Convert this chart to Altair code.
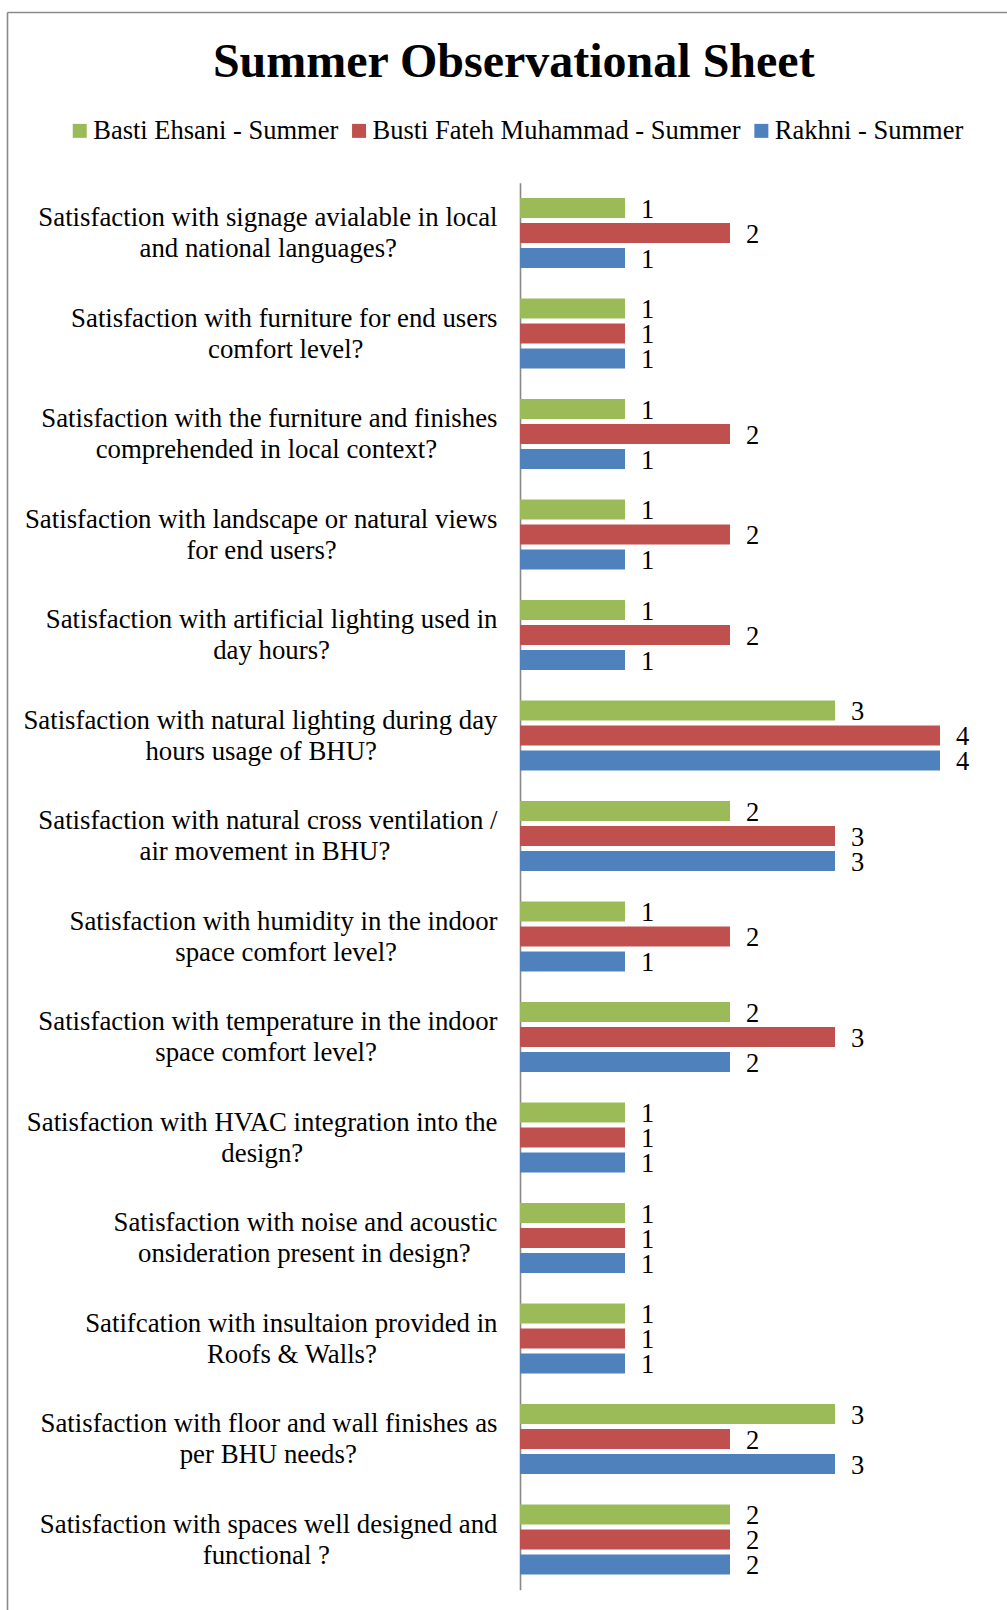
import altair as alt
import pandas as pd

FONT = "Liberation Serif"

title_text = "Summer Observational Sheet"

# Each question is drawn on two lines, the second centred under the first.
questions = [
    "Satisfaction with signage avialable in local\nand national languages?",
    "Satisfaction with furniture for end users\ncomfort level?",
    "Satisfaction with the furniture and finishes\ncomprehended in local context?",
    "Satisfaction with landscape or natural views\nfor end users?",
    "Satisfaction with artificial lighting used in\nday hours?",
    "Satisfaction with natural lighting during day\nhours usage of BHU?",
    "Satisfaction with natural cross ventilation /\nair movement in BHU?",
    "Satisfaction with humidity in the indoor\nspace comfort level?",
    "Satisfaction with temperature in the indoor\nspace comfort level?",
    "Satisfaction with HVAC integration into the\ndesign?",
    "Satisfaction with noise and acoustic\nonsideration present in design?",
    "Satifcation with insultaion provided in\nRoofs & Walls?",
    "Satisfaction with floor and wall finishes as\nper BHU needs?",
    "Satisfaction with spaces well designed and\nfunctional ?",
]

series = ["Basti Ehsani - Summer", "Busti Fateh Muhammad - Summer", "Rakhni - Summer"]
basti_ehsani = [1, 1, 1, 1, 1, 3, 2, 1, 2, 1, 1, 1, 3, 2]
busti_fateh_muhammad = [2, 1, 2, 2, 2, 4, 3, 2, 3, 1, 1, 1, 2, 2]
rakhni = [1, 1, 1, 1, 1, 4, 3, 1, 2, 1, 1, 1, 3, 2]
colors = ["#9BBB59", "#C0504D", "#4F81BD"]

FRAME = "#8a8a8a"
VIEW_W, VIEW_H = 999.5, 1597.5

# Advance widths of the serif face (per 1000 em), used to centre the
# shorter line of a right-aligned two-line label under the longer one.
_lower = dict(zip("abcdefghijklmnopqrstuvwxyz",
                  [444, 500, 444, 500, 444, 333, 500, 500, 278, 278, 500, 278, 778,
                   500, 500, 500, 500, 333, 389, 278, 500, 500, 722, 500, 500, 444]))
_upper = dict(zip("ABCDEFGHIJKLMNOPQRSTUVWXYZ",
                  [722, 667, 667, 722, 611, 556, 722, 722, 333, 389, 722, 611, 889,
                   722, 722, 556, 722, 667, 556, 611, 722, 722, 944, 722, 722, 611]))
_punct = {" ": 250, "?": 444, "/": 278, "&": 778, ".": 250, ",": 250, "-": 333}
ADV = {**_lower, **_upper, **_punct}
NBSP = "\u00a0"
ZWSP = "\u200b"  # keeps the trailing no-break spaces from being trimmed


def em_width(s):
    return sum(ADV.get(c, 500) for c in s) / 1000.0


def centred_label(q):
    lines = q.split("\n")
    widest = max(em_width(l) for l in lines)
    out = []
    for l in lines:
        n = int(round((widest - em_width(l)) / 2 / 0.25))
        out.append(l + NBSP * n + (ZWSP if n else ""))
    return "|".join(out)


labels = [centred_label(q) for q in questions]

records = []
for lab, a, b, c in zip(labels, basti_ehsani, busti_fateh_muhammad, rakhni):
    for name, v in zip(series, (a, b, c)):
        records.append({"question": lab, "series": name, "value": v})
df = pd.DataFrame(records)

x_enc = alt.X("value:Q", axis=None,
              scale=alt.Scale(domain=[0, 4], range=[512.5, 932.5], nice=False, zero=True))
y_enc = alt.Y(
    "question:N",
    sort=labels,
    scale=alt.Scale(range=[170.2, 1577.2], paddingInner=0, paddingOuter=0),
    axis=alt.Axis(
        title=None,
        orient="left",
        offset=-512.5,
        domain=True,
        domainColor="#888888",
        domainWidth=1.6,
        ticks=False,
        tickSize=0,
        grid=False,
        labelExpr="split(datum.label, '|')",
        labelFont=FONT,
        labelFontSize=26.8,
        labelColor="black",
        labelAlign="right",
        labelBaseline="middle",
        labelLineHeight=31,
        labelOffset=-14.8,
        labelPadding=23,
        labelLimit=800,
    ),
)
yoff_enc = alt.YOffset("series:N", sort=series,
                       scale=alt.Scale(paddingInner=0.2, paddingOuter=0.61))

bars = alt.Chart(df).mark_bar(strokeWidth=0).encode(
    x=x_enc,
    y=y_enc,
    yOffset=yoff_enc,
    color=alt.Color(
        "series:N",
        sort=series,
        scale=alt.Scale(domain=series, range=colors),
        legend=alt.Legend(
            title=None,
            orient="none",
            legendX=59,
            legendY=105,
            direction="horizontal",
            symbolType="square",
            symbolSize=196,
            symbolStrokeWidth=0,
            symbolOpacity=1,
            labelFont=FONT,
            labelFontSize=26.5,
            labelColor="black",
            labelOffset=0.2,
            columnPadding=7.3,
            labelLimit=800,
            padding=0,
        ),
    ),
)

value_labels = alt.Chart(df).mark_text(
    align="left", baseline="alphabetic", dx=16, dy=10,
    font=FONT, fontSize=26.5, color="black",
).encode(
    x=x_enc,
    y=y_enc,
    yOffset=yoff_enc,
    text=alt.Text("value:Q"),
)

# Outer frame: top and left edges of the chart box.
frame_data = alt.Data(values=[{"edge": "frame"}])
frame_top = alt.Chart(frame_data).mark_rule(color=FRAME, strokeWidth=1.6).encode(
    x=alt.value(0), x2=alt.value(VIEW_W), y=alt.value(0)
)
frame_left = alt.Chart(frame_data).mark_rule(color=FRAME, strokeWidth=1.6).encode(
    x=alt.value(0), y=alt.value(0), y2=alt.value(VIEW_H)
)

chart = (
    alt.layer(frame_top, frame_left, bars, value_labels)
    .properties(
        width=VIEW_W,
        height=VIEW_H,
        title=alt.TitleParams(
            text=title_text,
            font=FONT,
            fontSize=48,
            fontWeight="bold",
            color="black",
            anchor="middle",
            baseline="alphabetic",
            offset=-112.8,
            dx=6.5,
        ),
        autosize=alt.AutoSizeParams(type="none"),
        padding={"left": 7.5, "top": 12.5, "right": 0, "bottom": 0},
        background="white",
    )
    .configure_view(stroke=None)
)

chart.save("out.html", embed_options={"renderer": "svg", "actions": False})
